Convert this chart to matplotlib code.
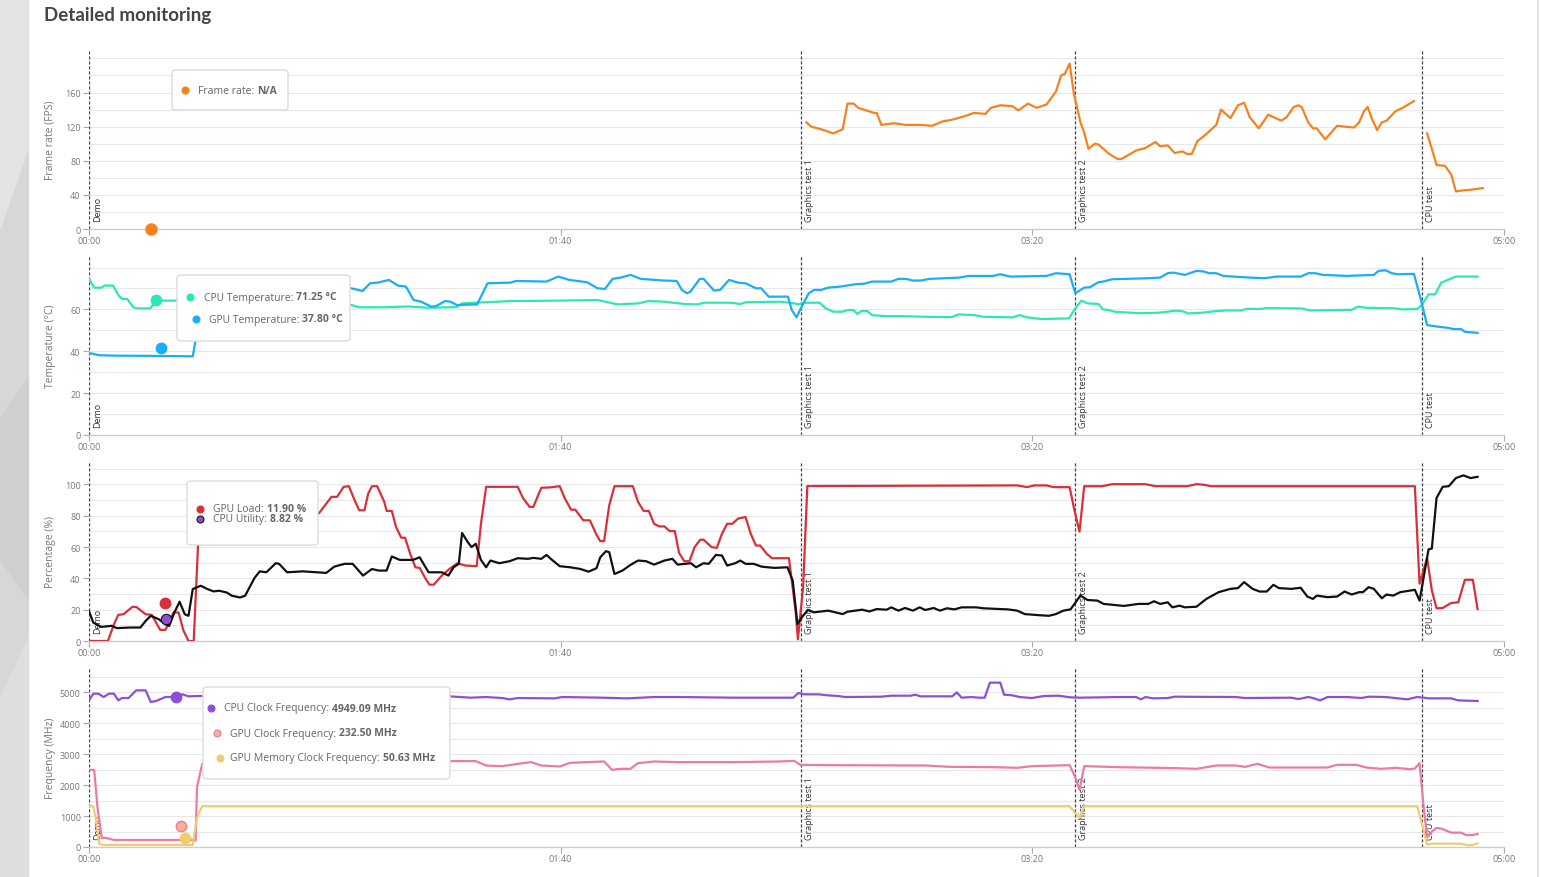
import numpy as np
import matplotlib.pyplot as plt
from matplotlib.patches import FancyBboxPatch, Rectangle, Polygon
from matplotlib.lines import Line2D
import matplotlib.transforms as mtransforms

W, H = 1541, 878

# ---- data (time in seconds, value) ----
nan = float('nan')
FPS = [(152.1,125),(153.1,120),(155.2,117),(157.8,112),(159.8,117),(160.8,147),(162.1,147),(163.1,142),
       (166.5,136),(167.0,136),(168.0,122),(170.6,124),(173.2,122),(176.3,122),(178.8,121),(180.9,126),
       (182.9,128),(185.5,132),(187.6,136),(190.1,135),(191.2,142),(193.2,145),(195.8,144),(197.0,139),
       (199.1,147),(200.9,142),(203.0,146),(205.0,161),(206.1,180),(206.9,182),(207.9,194),(208.8,159),
       (210.2,125),(211.0,113),(211.9,94),(213.3,100),(214.0,99),(216.3,88),(218.1,82),(218.9,82),
       (222.0,92),(224.0,95),(226.1,102),(227.1,97),(228.7,98),(230.2,89),(231.8,91),(232.8,88),
       (233.8,88),(235.0,103),(236.4,109),(239.0,122),(240.0,140),(242.0,130),(243.6,145),(244.9,148),
       (246.1,131),(248.0,118),(250.0,134),(252.8,127),(253.9,131),(255.4,143),(256.4,145),(257.1,143),
       (258.5,125),(259.5,118),(260.3,118),(262.1,105),(264.6,121),(266.2,120),(268.2,119),(269.3,125),
       (270.3,138),(271.1,143),(272.0,129),(273.1,116),(274.1,125),(275.1,127),(277.0,138),(278.5,142),
       (280.9,150),(282.0,nan),
       (283.7,112),(284.7,94),(285.7,75),(287.5,74),(288.8,64),(289.8,44),(290.9,45),(292.9,46),(295.5,48)]

CPU_TEMP = [(0,74.6),(1.1,70.4),(2.7,70.4),(3.3,71.4),(5.1,71.4),(6.2,66.9),(7.0,65),(8.1,65),(9.4,61),
            (10.3,60.5),(13.0,60.5),(14.3,64.2),(18.4,64.2),(24,64),(30,63),(36,62.5),(42,62),(48,62),
            (53,62),(55.6,62.1),(57.4,61),(62.3,61),(67.7,61.4),(72.0,60.8),(78.0,61.1),(79.1,62.9),
            (89.4,64),(100.2,64.2),(107.8,64.5),(112.1,62.4),(116.5,62.9),(118.6,64),(121.9,63.7),
            (126.2,62.6),(128.9,62.4),(130.5,63.2),(136.0,63.2),(138.1,62.6),(139.2,63.4),(146.5,63.7),
            (149.5,62.9),(150.4,62.4),(151.6,63.2),(154.9,63.2),(156.2,60.5),(157.8,58.9),(159.8,58.9),
            (160.8,59.7),(162.1,59.7),(162.9,57.8),(163.7,59.2),(165.0,59.2),(166.0,57.3),(168.6,56.8),
            (172.1,56.8),(177.3,56.5),(182.9,56.3),(184.3,57.6),(187.6,57.3),(189.6,56.5),(195.8,56.2),
            (197.3,57.3),(198.9,56.2),(202.0,55.4),(207.8,55.7),(209.1,60.5),(210.4,64.2),(211.7,62.9),
            (214.0,62.6),(215.0,60),(216.3,59.7),(217.4,58.9),(222.5,58.2),(226.6,58.4),(228.7,58.9),
            (230.2,59.4),(231.8,59.2),(233.0,58.1),(235.9,58.4),(239.0,59.2),(241.0,59.5),(244.1,59.5),
            (245.6,60.3),(248.2,60.2),(249.7,60.6),(256.9,60.5),(259.0,59.5),(267.7,59.8),(269.0,61.3),
            (270.8,60.8),(277.0,60.5),(278.5,60),(281.6,60.2),(282.6,62.1),(284.0,67.2),(285.4,67.2),
            (286.7,72.8),(288.1,74.1),(289.8,75.7),(294.4,75.7)]

GPU_TEMP = [(0,39.2),(2.2,38.1),(6,37.9),(13.5,37.8),(22,37.6),(22.8,47.7),(23.8,62),(25,68),(30,69),
            (36,69.5),(42,70),(48,70),(53,70.5),(55.6,70.1),(58,68.8),(59.6,72.5),(61.2,72.8),(63.6,74.1),
            (65.5,71.4),(67.2,70.9),(68.8,64.5),(70.4,63.7),(72.6,61.3),(73.6,61.6),(75.5,64),(76.6,63.7),
            (78,62.1),(82.3,62.4),(84.5,72.5),(89.4,72.8),(90.5,73.6),(97,73.3),(99.5,75.7),(101.8,74.1),
            (105.6,73),(107.8,70.1),(109.4,69.8),(111,74.6),(112.7,75.2),(114.8,76.5),(117,74.6),
            (121.9,73.8),(124.6,73.6),(125.7,69.3),(126.8,67.7),(127.5,68.5),(129.5,74.6),(130.3,74.6),
            (132.5,69),(133.8,69.3),(135.7,74.1),(137.6,72.8),(139.2,72.5),(141.4,70.1),(142.5,70.1),
            (144.1,66.1),(148.2,66.1),(149,59.7),(150,56.2),(151.1,61.3),(152.6,67.7),(153.7,69.3),
            (155.2,69.3),(156.7,70.4),(159.3,70.9),(162.4,72),(164.4,72.3),(166,73.3),(170.1,73.3),
            (171.6,74.6),(173.2,74.6),(174.7,73.8),(176.3,73.8),(178.3,74.6),(184.5,75.2),(186.5,76),
            (191.7,76),(193.2,76.8),(195.3,75.7),(203,76),(205,77.3),(207.9,76.8),(209.1,67.7),(211,70.4),
            (212.2,70.6),(214,73),(215,73.3),(216.9,74.4),(224.6,74.9),(227.1,75.2),(228.7,77.3),
            (229.9,77.6),(232.3,76.5),(234.8,78.4),(236.4,78.1),(237.4,77.3),(239,77.3),(240.5,76),
            (246.1,75.2),(249.2,74.9),(251.8,75.7),(256.9,75.7),(258.5,77.3),(260,77.3),(261.6,76.5),
            (266.7,76),(272.4,76.5),(273.4,78.4),(274.9,78.7),(276.2,77.3),(277.5,76.8),(280.9,77),
            (282.3,65.3),(283.7,52.5),(286.2,51.7),(288.1,51.2),(289.3,50.6),(290.9,50.6),(291.7,49.3),
            (294.4,48.8)]

GPU_LOAD = [(0,0),(4,0),(5.3,10.7),(6.2,16.7),(7.3,17.1),(9.2,21.8),(10,21.8),(12,17.1),(13.3,16.7),
            (15.1,7.1),(16.2,7.1),(17.9,18.2),(19,18.2),(20,6.9),(21.1,0),(22.2,0),(23.1,60),(24,98),
            (30,98),(33,93),(36,88),(40,84),(44,81),(48.7,81.4),(50.3,87.8),(51.4,92.1),(52.6,92.1),
            (54,98.5),(55.1,98.9),(56.4,89.3),(57.3,83.5),(58.4,83.5),(59.2,94.2),(60,98.9),(61.1,98.9),
            (62.6,88.9),(63.1,83.1),(64.2,83.1),(65.1,72.8),(66.2,66),(67,66),(68.1,55.7),(69.2,47.1),
            (70.1,46.7),(71.4,39.6),(72.2,36),(73.1,36),(74.8,41.8),(76.4,46),(78.1,49.7),(79.8,48.2),
            (82.2,47.8),(83.1,74.9),(84.2,98.5),(90.9,98.5),(92,91.4),(93.4,85.7),(94.2,85.7),(95.9,97.9),
            (97.6,98.1),(99.8,98.9),(100.9,91),(102.2,83.9),(103.1,83.9),(104.8,77.1),(106.2,77.1),
            (107.6,67.9),(108.4,63.8),(109.2,63.8),(110.3,86.7),(111.4,98.9),(115.3,98.9),(116.4,88.9),
            (117.6,83.1),(118.7,83.1),(119.8,74.9),(120.9,73.2),(122,73.2),(123.1,70.2),(124.2,70.2),
            (125.1,56.3),(126.2,51),(127.3,51),(128.4,60),(129.6,64.7),(130.3,64.7),(132,60),(133.1,59.5),
            (134.2,68.5),(135.3,74.9),(136.4,74.9),(137.6,78.2),(139.2,79.2),(140.3,68.5),(141.4,61),
            (142.3,61),(143.7,55.7),(144.8,52.9),(148.4,52.9),(149.8,19.3),(150.3,1.1),(151.4,34.3),
            (152.3,99),(196.8,99.4),(198.9,98.3),(200.4,99.4),(203,99.4),(204.5,98.3),(207.9,98.3),
            (208.9,83.9),(210,69.9),(211,98.9),(214.8,98.9),(216.9,100.2),(224,100.2),(226.1,98.9),
            (232.8,98.9),(234.8,100.2),(236.4,99.8),(237.9,98.9),(281.1,98.9),(282.1,36.6),(283.7,53.1),
            (284.7,32.3),(285.7,20.9),(287,21.1),(288.8,24.3),(290.3,24.7),(291.7,39.1),(293.4,39.1),
            (294.4,20.4)]

CPU_UTIL = [(0,19),(0.9,11.8),(2.6,9),(4.8,9.7),(5.9,8.2),(8.7,8.6),(10.9,8.6),(12,12.8),(13.1,16.1),
            (14.8,13.9),(16.2,10.7),(17,9.6),(18.1,18.2),(19.2,25.1),(20.3,17.1),(21.1,16.1),(22,33.2),
            (23.7,35.3),(25.1,33.2),(26.4,31.7),(27.6,32.1),(29.2,31),(30.3,28.9),(32,27.8),(33.1,28.9),
            (35.1,40.3),(36.2,44.5),(37.6,43.9),(39.6,49.7),(40.3,49.3),(42,43.9),(45.3,44.5),(50.3,43.5),
            (52,47.5),(54.2,49.3),(55.9,49.3),(58.1,41.8),(60,46),(61.4,45),(63.1,45),(64.2,54),
            (65.9,51.8),(68.7,51.8),(70.1,53.5),(72,43.9),(74.8,43.9),(76.2,41.8),(77.3,47.1),(78.4,49.3),
            (79.1,69),(80.3,63.2),(81.1,60),(82,62.1),(83.1,51.8),(84.2,47.1),(85.1,51.4),(87,49.7),
            (89.2,51),(90.9,52.9),(93.1,52.5),(94.2,53.1),(95.9,52.5),(97,55),(98.1,52),(99.8,47.8),
            (102,47.1),(104.2,46),(105.9,44.3),(107.6,46.5),(108.4,53.5),(109.6,57.4),(110.3,56.7),
            (111.4,42.8),(113.1,45),(114.8,48.6),(116.4,51.4),(118.1,51),(119.8,48.8),(122,51.4),
            (123.7,52.5),(124.8,48.8),(127.6,49.7),(128.7,47.1),(130.3,49.7),(131.4,49.3),(132.9,55),
            (134.2,54.6),(135.3,48.2),(137,49.7),(138.1,51.4),(139.2,49.3),(140.9,49.3),(142.6,47.5),
            (145.3,46.7),(148.1,47.1),(149.2,38.5),(150.2,10.8),(151.1,15),(152.4,19.8),(153.7,18.3),
            (156.7,19.4),(159.8,17.2),(160.8,18.7),(163.9,20),(165.5,18.9),(167,20.4),(169.1,20),
            (170.1,21.5),(171.6,19.4),(173,21.1),(174.7,19.4),(176.1,21.5),(177.3,19.8),(179.1,21.1),
            (180.4,19.4),(181.9,20.9),(183.5,20.2),(185,21.5),(188.1,21.5),(189.6,20.9),(194.8,20.2),
            (196.8,19.4),(198.4,17.2),(200.9,16.6),(203.5,16.1),(205,17.2),(206.6,19.4),(208.1,20.2),
            (210.2,29),(211.7,26.2),(213.8,25.8),(215.1,23.7),(217.4,23),(219.4,22.4),(222.5,23.7),
            (224.6,23.7),(225.8,25.4),(227.1,23.7),(228.7,24.7),(229.7,21.5),(231.2,22.6),(232.3,21.5),
            (234.8,21.9),(236.9,26.9),(239.5,31.2),(242,33.3),(243.6,33.8),(244.9,37.6),(246.7,33.3),
            (248.2,31.6),(249.7,31.6),(251.1,35.9),(252.3,33.8),(254.9,33.3),(256.9,34),(258.3,28.4),
            (259.5,26.9),(260.3,29),(262.6,28),(264.6,28.4),(266.2,31.6),(267.7,29.7),(269.3,31.2),
            (270.1,31.2),(271.3,34.4),(272.4,33.3),(274.1,27.3),(275.1,29.7),(276.5,29),(278,31.2),
            (281.1,32.7),(282.1,25.8),(283.1,43),(284,58.5),(284.7,59.1),(285.7,91.4),(287,98.5),
            (288.3,98.9),(289.8,104.1),(291.4,105.8),(292.9,104.1),(294.4,104.9)]

CPU_CLOCK = [(0,4741),(0.9,4957),(2,4957),(3.1,4849),(4.2,4957),(5.3,4957),(6.2,4741),(7,4817),
             (8.4,4817),(10,5065),(12,5065),(13.1,4687),(14.2,4720),(16.2,4849),(18.1,4849),(19.8,4936),
             (21.1,4871),(23.1,4882),(30,4870),(40,4860),(50,4850),(60,4860),(70,4850),(76.4,4871),
             (80.9,4828),(84.2,4849),(87.6,4817),(89.2,4774),(90.9,4817),(98.7,4806),(100.3,4849),
             (108.7,4828),(114.2,4806),(119.8,4849),(125.3,4849),(136.4,4828),(149.3,4828),(150.4,4979),
             (151.6,4936),(154.7,4936),(156.7,4903),(158.8,4882),(160.3,4849),(168,4860),(170.1,4892),
             (174.2,4892),(175.2,4925),(176.3,4871),(183,4871),(184,5000),(185,4828),(187.1,4849),
             (188.6,4828),(189.9,4828),(191,5314),(193.2,5314),(194,4925),(195.8,4903),(197.3,4849),
             (199.9,4817),(202.5,4882),(205.5,4892),(208.1,4838),(210.2,4828),(218.4,4849),(222,4849),
             (223,4774),(224,4849),(225.6,4806),(228.7,4817),(230.2,4860),(243.1,4849),(245.1,4817),
             (254.9,4828),(256.4,4784),(258.5,4849),(259.5,4817),(261,4741),(262.6,4849),(266.7,4849),
             (269.8,4817),(271.3,4860),(274.9,4849),(279.5,4774),(281.6,4849),(284.2,4806),(288.8,4806),
             (290.3,4741),(294.4,4720)]

GPU_CLOCK = [(0,2495),(1.1,2495),(1.8,1285),(2.7,292),(3.7,292),(5.3,227),(22,227),(22.6,205),
             (22.9,1933),(24,2689),(26,2760),(40,2770),(60,2770),(76.4,2776),(82,2776),(84.2,2635),
             (87.6,2614),(90.9,2689),(93.7,2743),(95.9,2635),(99.8,2603),(102,2722),(109.2,2765),
             (110.9,2495),(112.6,2527),(114.8,2527),(116.4,2711),(119.8,2765),(125.3,2743),(136.4,2743),
             (146.5,2765),(149.5,2786),(150.8,2657),(156.7,2646),(177.3,2635),(182.4,2592),(191.7,2581),
             (196.8,2560),(199.9,2614),(207.9,2646),(209.1,2257),(210,1847),(211,2614),(218.4,2581),
             (230.7,2549),(234.8,2527),(236.9,2581),(239,2635),(243.1,2635),(245.1,2592),(247.7,2689),
             (250.3,2570),(262.6,2570),(264.6,2657),(268.7,2657),(270.8,2570),(273.9,2527),(277,2560),
             (280.1,2516),(281.1,2538),(282.1,2711),(282.9,1393),(283.7,313),(284.7,497),(285.7,616),
             (286.7,594),(288.8,464),(290.9,464),(291.9,389),(293.4,389),(294.4,421)]

GPU_MEM_CLOCK = [(0,1318),(0.9,1318),(1.4,961),(2.2,97),(3.1,65),(22,65),(22.9,961),(24,1318),
                 (207.9,1318),(210,940),(211,1318),(281.6,1318),(282.6,745),(283.7,76),(284.7,108),
                 (290.9,108),(292.4,54),(293.4,65),(294.4,119)]

MARKERS = [(0, 'Demo'), (151, 'Graphics test 1'), (209, 'Graphics test 2'), (282.6, 'CPU test')]
X_TICKS = [0, 100, 200, 300]
X_LABELS = ['00:00', '01:40', '03:20', '05:00']

# colours
C_FPS = '#f5821f'
C_CPU_T = '#2de8b2'
C_GPU_T = '#1aaef5'
C_LOAD = '#d8303a'
C_UTIL = '#111111'
C_CCLK = '#8e4fd6'
C_GCLK = '#ea7aa7'
C_MCLK = '#efcb72'

FONT = ['Open Sans', 'DejaVu Sans']
TICKFONT = ['Liberation Sans Narrow', 'Open Sans', 'DejaVu Sans']
plt.rcParams['font.family'] = FONT


def px(x, y):
    return x / W, 1 - y / H


def unzip(pairs):
    a = np.array(pairs, dtype=float)
    return a[:, 0], a[:, 1]


fig = plt.figure(figsize=(W / 100, H / 100), dpi=100)
fig.patch.set_facecolor('white')

# left page background strip
fig.add_artist(Rectangle((0, 0), 28 / W, 1, transform=fig.transFigure, color='#d7d7d7', zorder=-2))
fig.add_artist(Polygon([px(0, 0), px(28, 0), px(28, 150), px(0, 230)], closed=True,
                       transform=fig.transFigure, color='#e3e3e3', zorder=-1))
fig.add_artist(Polygon([px(0, 420), px(28, 380), px(28, 600), px(0, 560)], closed=True,
                       transform=fig.transFigure, color='#cfcfcf', zorder=-1))
fig.add_artist(Polygon([px(0, 700), px(28, 640), px(28, 878), px(0, 878)], closed=True,
                       transform=fig.transFigure, color='#dedede', zorder=-1))
fig.add_artist(Line2D([1538 / W, 1538 / W], [0, 1], transform=fig.transFigure, color='#e4e4e4', lw=1.5))

fig.text(44 / W, 1 - 16 / H, 'Detailed monitoring', fontsize=13.5, fontweight='bold',
         family=['Lato', 'DejaVu Sans'], color='#444444', va='center')

panels = [
    dict(top=50, ylim=211, grid=20, ticks=[0, 40, 80, 120, 160], gmax=200, label='Frame rate (FPS)'),
    dict(top=256, ylim=86, grid=10, ticks=[0, 20, 40, 60], gmax=80, label='Temperature (°C)'),
    dict(top=462, ylim=115, grid=10, ticks=[0, 20, 40, 60, 80, 100], gmax=110, label='Percentage (%)'),
    dict(top=668, ylim=5820, grid=500, ticks=[0, 1000, 2000, 3000, 4000, 5000], gmax=5500,
         label='Frequency (MHz)'),
]

axes = []
for p in panels:
    ax = fig.add_axes([89 / W, 1 - (p['top'] + 180) / H, 1415 / W, 180 / H])
    ax.set_xlim(0, 300)
    ax.set_ylim(0, p['ylim'])
    ax.patch.set_alpha(0)
    for s in ['top', 'right', 'left']:
        ax.spines[s].set_visible(False)
    ax.spines['bottom'].set_color('#cccccc')
    ax.spines['bottom'].set_linewidth(1)
    for g in np.arange(p['grid'], p['gmax'] + 1, p['grid']):
        ax.axhline(g, color='#e8e8e8', lw=0.8, zorder=0)
    ax.set_yticks(p['ticks'])
    ax.set_xticks(X_TICKS)
    ax.set_xticklabels(X_LABELS)
    ax.tick_params(axis='both', colors='#aaaaaa', labelcolor='#777777', labelsize=6.5,
                   length=4, width=0.8, pad=2)
    ax.tick_params(axis='x', length=4, pad=1)
    for lab in ax.get_xticklabels() + ax.get_yticklabels():
        lab.set_family(TICKFONT)
    ax.set_ylabel(p['label'], fontsize=7.5, color='#777777')
    ax.yaxis.set_label_coords(-(89 - 56) / 1415, 0.5)
    off = mtransforms.offset_copy(ax.get_xaxis_transform(), fig=fig, x=4, y=8, units='dots')
    for t, name in MARKERS:
        ax.axvline(t, color='#444444', lw=0.9, ls=(0, (2.5, 1.5)), zorder=2)
        ax.text(t, 0, name, transform=off, rotation=90, ha='left', va='bottom',
                fontsize=6.5, color='#333333', zorder=1)
    axes.append(ax)

lw = 1.6
a1, a2, a3, a4 = axes
a1.plot(*unzip(FPS), color=C_FPS, lw=lw, zorder=3)
a1.plot([13.1], [0], 'o', ms=8, color=C_FPS, clip_on=False, zorder=4)

a2.plot(*unzip(CPU_TEMP), color=C_CPU_T, lw=lw, zorder=3)
a2.plot(*unzip(GPU_TEMP), color=C_GPU_T, lw=lw, zorder=3)
a2.plot([14.2], [64.3], 'o', ms=7.5, color=C_CPU_T, zorder=4)
a2.plot([15.3], [41.4], 'o', ms=7.5, color=C_GPU_T, zorder=4)

a3.plot(*unzip(GPU_LOAD), color=C_LOAD, lw=lw, zorder=3)
a3.plot(*unzip(CPU_UTIL), color=C_UTIL, lw=lw, zorder=3)
a3.plot([16.1], [24.2], 'o', ms=7.5, color=C_LOAD, zorder=4)
a3.plot([16.3], [14], 'o', ms=7.5, color=C_CCLK, mec='#111111', mew=0.8, zorder=4)

a4.plot(*unzip(CPU_CLOCK), color=C_CCLK, lw=lw, zorder=3)
a4.plot(*unzip(GPU_CLOCK), color=C_GCLK, lw=lw, zorder=3)
a4.plot(*unzip(GPU_MEM_CLOCK), color=C_MCLK, lw=lw, zorder=3)
a4.plot([18.4], [4860], 'o', ms=7.5, color=C_CCLK, zorder=4)
a4.plot([19.5], [680], 'o', ms=7.5, color='#f2b48a', mec=C_GCLK, mew=1, zorder=4)
a4.plot([20.4], [292], 'o', ms=7.5, color=C_MCLK, zorder=4)

renderer = fig.canvas.get_renderer()


def tooltip(box, rows, fs=7.5):
    x0, y0, x1, y1 = box
    fig.add_artist(FancyBboxPatch(px(x0, y1), (x1 - x0) / W, (y1 - y0) / H,
                                  boxstyle='round,pad=0,rounding_size=0.003',
                                  transform=fig.transFigure, facecolor='white',
                                  edgecolor='#dcdcdc', lw=1, zorder=5))
    for bx, by, tx, color, edge, label, value in rows:
        fig.add_artist(Line2D([bx / W], [1 - by / H], marker='o', ms=5, color=color,
                              mec=edge, mew=0.8, transform=fig.transFigure, zorder=6))
        t = fig.text(tx / W, 1 - by / H, label + ':', fontsize=fs, color='#666666',
                     va='center', zorder=6)
        ext = t.get_window_extent(renderer=renderer)
        fig.text((ext.x1 + 3) / W, 1 - by / H, value, fontsize=fs, color='#666666',
                 fontweight='bold', va='center', zorder=6)


tooltip((172, 71, 288, 111), [(185, 91, 198, C_FPS, C_FPS, 'Frame rate', 'N/A')])
tooltip((177, 276, 350, 342), [
    (190, 298, 204, C_CPU_T, C_CPU_T, 'CPU Temperature', '71.25 °C'),
    (196, 320, 209, C_GPU_T, C_GPU_T, 'GPU Temperature', '37.80 °C'),
])
tooltip((187, 482, 318, 546), [
    (200, 510, 213, C_LOAD, C_LOAD, 'GPU Load', '11.90 %'),
    (200, 520, 213, C_CCLK, '#111111', 'CPU Utility', '8.82 %'),
])
tooltip((203, 688, 450, 780), [
    (211, 709, 224, C_CCLK, C_CCLK, 'CPU Clock Frequency', '4949.09 MHz'),
    (217, 734, 230, '#f2b48a', C_GCLK, 'GPU Clock Frequency', '232.50 MHz'),
    (220, 759, 230, C_MCLK, C_MCLK, 'GPU Memory Clock Frequency', '50.63 MHz'),
])

fig.savefig('out.png', dpi=100)
